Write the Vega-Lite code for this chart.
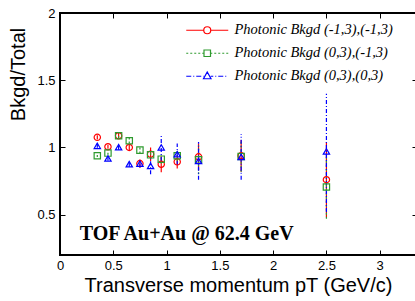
{
  "$schema": "https://vega.github.io/schema/vega-lite/v6.json",
  "width": 357,
  "height": 242,
  "autosize": {"type": "none"},
  "padding": {"left": 60, "top": 13, "right": 0, "bottom": 46},
  "background": "white",
  "config": {
    "view": {"stroke": "black", "strokeWidth": 2},
    "axis": {"domain": false, "grid": false, "format": "~g", "labelFlush": false, "labelFont": "Liberation Sans", "labelFontSize": 13, "labelColor": "black", "tickColor": "black", "titleFont": "Liberation Sans", "titleFontSize": 20, "titleFontWeight": "normal", "titleColor": "black"}
  },
  "data": {"values": [
    {"pt": 0.35, "series": "Photonic Bkgd (-1,3),(-1,3)", "val": 1.075, "lo": 1.06, "hi": 1.09},
    {"pt": 0.45, "series": "Photonic Bkgd (-1,3),(-1,3)", "val": 1.005, "lo": 0.99, "hi": 1.02},
    {"pt": 0.55, "series": "Photonic Bkgd (-1,3),(-1,3)", "val": 1.087, "lo": 1.067, "hi": 1.107},
    {"pt": 0.65, "series": "Photonic Bkgd (-1,3),(-1,3)", "val": 1.0, "lo": 0.98, "hi": 1.02},
    {"pt": 0.75, "series": "Photonic Bkgd (-1,3),(-1,3)", "val": 0.88, "lo": 0.85, "hi": 0.91},
    {"pt": 0.85, "series": "Photonic Bkgd (-1,3),(-1,3)", "val": 0.95, "lo": 0.9, "hi": 1.0},
    {"pt": 0.95, "series": "Photonic Bkgd (-1,3),(-1,3)", "val": 0.875, "lo": 0.815, "hi": 0.935},
    {"pt": 1.1, "series": "Photonic Bkgd (-1,3),(-1,3)", "val": 0.893, "lo": 0.843, "hi": 0.943},
    {"pt": 1.3, "series": "Photonic Bkgd (-1,3),(-1,3)", "val": 0.93, "lo": 0.83, "hi": 1.03},
    {"pt": 1.7, "series": "Photonic Bkgd (-1,3),(-1,3)", "val": 0.938, "lo": 0.82, "hi": 1.055},
    {"pt": 2.5, "series": "Photonic Bkgd (-1,3),(-1,3)", "val": 0.76, "lo": 0.48, "hi": 1.04},
    {"pt": 0.35, "series": "Photonic Bkgd (0,3),(-1,3)", "val": 0.938, "lo": 0.928, "hi": 0.948},
    {"pt": 0.45, "series": "Photonic Bkgd (0,3),(-1,3)", "val": 0.958, "lo": 0.945, "hi": 0.971},
    {"pt": 0.55, "series": "Photonic Bkgd (0,3),(-1,3)", "val": 1.087, "lo": 1.07, "hi": 1.104},
    {"pt": 0.65, "series": "Photonic Bkgd (0,3),(-1,3)", "val": 1.05, "lo": 1.03, "hi": 1.07},
    {"pt": 0.75, "series": "Photonic Bkgd (0,3),(-1,3)", "val": 0.98, "lo": 0.955, "hi": 1.005},
    {"pt": 0.85, "series": "Photonic Bkgd (0,3),(-1,3)", "val": 0.945, "lo": 0.915, "hi": 0.975},
    {"pt": 0.95, "series": "Photonic Bkgd (0,3),(-1,3)", "val": 0.913, "lo": 0.88, "hi": 0.946},
    {"pt": 1.1, "series": "Photonic Bkgd (0,3),(-1,3)", "val": 0.938, "lo": 0.9, "hi": 0.976},
    {"pt": 1.3, "series": "Photonic Bkgd (0,3),(-1,3)", "val": 0.908, "lo": 0.8, "hi": 1.016},
    {"pt": 1.7, "series": "Photonic Bkgd (0,3),(-1,3)", "val": 0.933, "lo": 0.82, "hi": 1.045},
    {"pt": 2.5, "series": "Photonic Bkgd (0,3),(-1,3)", "val": 0.706, "lo": 0.47, "hi": 0.95},
    {"pt": 0.35, "series": "Photonic Bkgd (0,3),(0,3)", "val": 1.012, "lo": 0.997, "hi": 1.027},
    {"pt": 0.45, "series": "Photonic Bkgd (0,3),(0,3)", "val": 0.918, "lo": 0.903, "hi": 0.933},
    {"pt": 0.55, "series": "Photonic Bkgd (0,3),(0,3)", "val": 1.002, "lo": 0.982, "hi": 1.022},
    {"pt": 0.65, "series": "Photonic Bkgd (0,3),(0,3)", "val": 0.876, "lo": 0.856, "hi": 0.896},
    {"pt": 0.75, "series": "Photonic Bkgd (0,3),(0,3)", "val": 0.88, "lo": 0.85, "hi": 0.91},
    {"pt": 0.85, "series": "Photonic Bkgd (0,3),(0,3)", "val": 0.863, "lo": 0.8, "hi": 0.926},
    {"pt": 0.95, "series": "Photonic Bkgd (0,3),(0,3)", "val": 1.0, "lo": 0.9, "hi": 1.1},
    {"pt": 1.1, "series": "Photonic Bkgd (0,3),(0,3)", "val": 0.95, "lo": 0.87, "hi": 1.03},
    {"pt": 1.3, "series": "Photonic Bkgd (0,3),(0,3)", "val": 0.9, "lo": 0.76, "hi": 1.04},
    {"pt": 1.7, "series": "Photonic Bkgd (0,3),(0,3)", "val": 0.93, "lo": 0.76, "hi": 1.1},
    {"pt": 2.5, "series": "Photonic Bkgd (0,3),(0,3)", "val": 0.97, "lo": 0.52, "hi": 1.4}
  ]},
  "resolve": {"scale": {"color": "independent", "shape": "independent", "strokeDash": "independent"}, "axis": {"x": "independent", "y": "independent"}},
  "layer": [
    {
      "mark": {"type": "rule", "strokeWidth": 1.2},
      "encoding": {
        "x": {"field": "pt", "type": "quantitative", "scale": {"domain": [0, 3.35], "nice": false, "zero": false}, "axis": {"orient": "bottom", "values": [0, 0.5, 1, 1.5, 2, 2.5, 3], "tickSize": -5, "labelPadding": 9, "title": "Transverse momentum pT (GeV/c)", "titleX": 178, "titleY": 30, "titleBaseline": "middle", "titleAlign": "center"}},
        "y": {"field": "lo", "type": "quantitative", "scale": {"domain": [0.2, 2], "nice": false, "zero": false}, "axis": {"orient": "left", "values": [0.5, 1, 1.5, 2], "tickSize": -5, "labelPadding": 10, "title": "Bkgd/Total", "titleX": -42, "titleY": 61, "titleAngle": -90, "titleAlign": "center", "titleBaseline": "middle"}},
        "y2": {"field": "hi"},
        "color": {"field": "series", "type": "nominal", "scale": {"domain": ["Photonic Bkgd (-1,3),(-1,3)", "Photonic Bkgd (0,3),(-1,3)", "Photonic Bkgd (0,3),(0,3)"], "range": ["#ff0000", "#2e9a2e", "#0000ff"]}, "legend": null},
        "strokeDash": {"field": "series", "type": "nominal", "scale": {"domain": ["Photonic Bkgd (-1,3),(-1,3)", "Photonic Bkgd (0,3),(-1,3)", "Photonic Bkgd (0,3),(0,3)"], "range": [[1, 0], [2, 2], [4, 2, 1, 2]]}, "legend": null}
      }
    },
    {
      "mark": {"type": "point", "filled": false, "strokeWidth": 1.2, "size": 40, "opacity": 1},
      "encoding": {
        "x": {"field": "pt", "type": "quantitative", "axis": null},
        "y": {"field": "val", "type": "quantitative", "axis": null},
        "color": {"field": "series", "type": "nominal", "scale": {"domain": ["Photonic Bkgd (-1,3),(-1,3)", "Photonic Bkgd (0,3),(-1,3)", "Photonic Bkgd (0,3),(0,3)"], "range": ["#ff0000", "#2e9a2e", "#0000ff"]}, "legend": null},
        "shape": {"field": "series", "type": "nominal", "scale": {"domain": ["Photonic Bkgd (-1,3),(-1,3)", "Photonic Bkgd (0,3),(-1,3)", "Photonic Bkgd (0,3),(0,3)"], "range": ["circle", "square", "triangle-up"]}, "legend": null}
      }
    },
    {
      "mark": {"type": "point", "filled": false, "strokeWidth": 1.2, "opacity": 0},
      "encoding": {
        "x": {"field": "pt", "type": "quantitative", "axis": {"orient": "top", "values": [0, 0.5, 1, 1.5, 2, 2.5, 3], "tickSize": -5, "labels": false, "title": null}},
        "y": {"field": "val", "type": "quantitative", "axis": {"orient": "right", "values": [0.5, 1, 1.5, 2], "tickSize": -5, "labels": false, "title": null}},
        "color": {"field": "series", "type": "nominal", "scale": {"domain": ["Photonic Bkgd (-1,3),(-1,3)", "Photonic Bkgd (0,3),(-1,3)", "Photonic Bkgd (0,3),(0,3)"], "range": ["#ff0000", "#2e9a2e", "#0000ff"]},
          "legend": {"title": null, "orient": "none", "legendX": 140, "legendY": 10, "padding": 0, "symbolSize": 100, "symbolOpacity": 1, "symbolStrokeWidth": 1.2, "symbolFillColor": "transparent", "labelFont": "Liberation Serif", "labelFontStyle": "italic", "labelFontSize": 14.5, "labelColor": "black", "labelOffset": 20, "rowPadding": 8, "labelLimit": 300}},
        "shape": {"field": "series", "type": "nominal", "scale": {"domain": ["Photonic Bkgd (-1,3),(-1,3)", "Photonic Bkgd (0,3),(-1,3)", "Photonic Bkgd (0,3),(0,3)"], "range": [
          "M-4.2,0L-0.7,0M0.7,0L4.2,0M0.7,0A0.7,0.7 0 1,1 -0.7,0A0.7,0.7 0 1,1 0.7,0",
          "M-4.2,0L-3.8,0M-3.4,0L-3,0M-2.6,0L-2.2,0M-1.8,0L-1.4,0M-1,0L-0.7,0M0.7,0L1,0M1.4,0L1.8,0M2.2,0L2.6,0M3,0L3.4,0M3.8,0L4.2,0M-0.65,-0.65L0.65,-0.65L0.65,0.65L-0.65,0.65Z",
          "M-4.2,0L-3.2,0M-2.8,0L-2.6,0M-2.2,0L-1.2,0M-0.8,0L-0.7,0M0.7,0L1.2,0M1.6,0L1.8,0M2.2,0L3.2,0M3.6,0L3.8,0M0,-0.85L0.75,0.5L-0.75,0.5Z"
        ]}}
      }
    },
    {
      "data": {"values": [{"label": "TOF Au+Au @ 62.4 GeV"}]},
      "mark": {"type": "text", "font": "Liberation Serif", "fontWeight": "bold", "fontSize": 20, "align": "left", "baseline": "middle", "color": "black"},
      "encoding": {
        "x": {"datum": 0.185, "axis": null},
        "y": {"datum": 0.355, "axis": null},
        "text": {"field": "label"}
      }
    }
  ]
}
